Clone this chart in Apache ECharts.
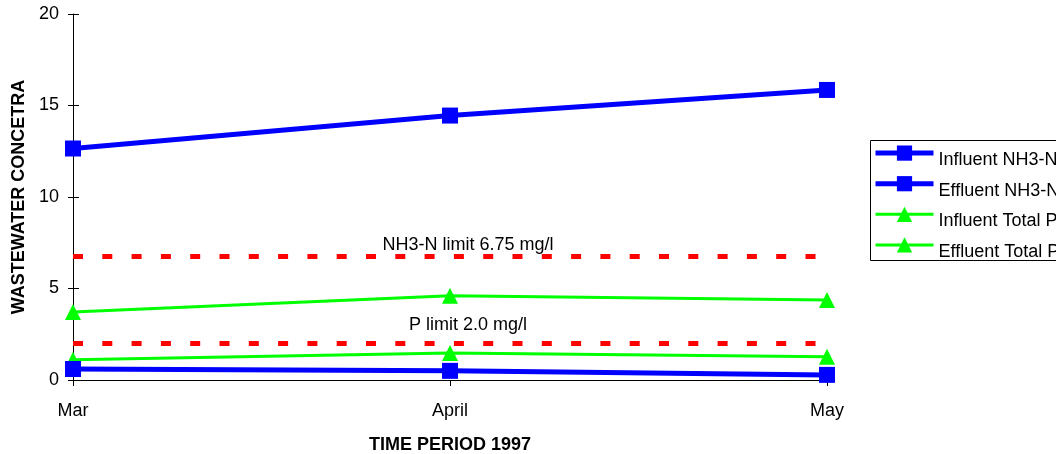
<!DOCTYPE html>
<html>
<head>
<meta charset="utf-8">
<script src="https://cdn.jsdelivr.net/npm/echarts@6/dist/echarts.min.js"></script>
<style>
html,body{margin:0;padding:0;background:#fff;}
#chart{width:1056px;height:454px;}
</style>
</head>
<body>
<div id="chart"></div>
<script>
const categories = ['Mar', 'April', 'May'];
const influentNH3 = [12.65, 14.45, 15.85];
const effluentNH3 = [0.6, 0.5, 0.28];
const influentTP = [3.72, 4.6, 4.37];
const effluentTP = [1.1, 1.48, 1.27];
const nh3Limit = [6.75, 6.75, 6.75];
const pLimit = [2.0, 2.0, 2.0];
const nh3LimitText = 'NH3-N limit 6.75 mg/l';
const pLimitText = 'P limit 2.0 mg/l';
const yTicks = { min: 0, max: 20, interval: 5 };

const FONT = "'Liberation Sans', Arial, sans-serif";
const chart = echarts.init(document.getElementById('chart'), null, { renderer: 'canvas' });

function limitData(arr, text, dist) {
  return arr.map((v, i) => i === 1 ? {
    value: v,
    label: { show: true, position: 'top', distance: dist, offset: [18, 0], formatter: text,
      color: '#000', fontSize: 18, fontFamily: FONT }
  } : v);
}

const option = {
  animation: false,
  backgroundColor: '#fff',
  grid: { left: 73, right: 229, top: 14, bottom: 74, containLabel: false, outerBoundsMode: 'none' },
  graphic: [{
    type: 'rect', z: 100, silent: true,
    shape: { x: 870.5, y: 140.5, width: 220, height: 120 },
    style: { fill: 'none', stroke: '#000', lineWidth: 1 }
  }],
  legend: {
    orient: 'vertical',
    left: 873, top: 145.5,
    padding: 0,
    itemGap: 7,
    itemWidth: 58,
    itemHeight: 19,
    itemTextGap: -2,
    borderWidth: 0,
    lineStyle: { width: 'inherit' },
    data: ['Influent NH3-N', 'Effluent NH3-N', 'Influent Total P', 'Effluent Total P'],
    formatter: '{a|{name}}',
    textStyle: { color: '#000', fontSize: 18, fontFamily: FONT,
      rich: { a: { color: '#000', fontSize: 18, fontFamily: FONT, padding: [14, 0, 0, 0] } } }
  },
  xAxis: {
    type: 'category',
    data: categories,
    boundaryGap: false,
    name: 'TIME PERIOD 1997',
    nameLocation: 'middle',
    nameGap: 56,
    nameTextStyle: { color: '#000', fontSize: 18, fontWeight: 'bold', fontFamily: FONT },
    axisLine: { lineStyle: { color: '#000', width: 1 } },
    axisTick: { show: true, length: 6, alignWithLabel: true, lineStyle: { color: '#000' } },
    axisLabel: { color: '#000', fontSize: 18, fontFamily: FONT, margin: 22 },
    splitLine: { show: false }
  },
  yAxis: [{
    type: 'value',
    min: yTicks.min, max: yTicks.max, interval: yTicks.interval,
    name: 'WASTEWATER CONCETRA',
    nameLocation: 'middle',
    nameGap: 44,
    nameRotate: 90,
    nameTextStyle: { color: '#000', fontSize: 18, fontWeight: 'bold', fontFamily: FONT },
    axisLine: { show: true, lineStyle: { color: '#000', width: 1 } },
    axisTick: { show: true, length: 5, lineStyle: { color: '#000' } },
    axisLabel: { color: '#000', fontSize: 18, fontFamily: FONT, margin: 14 },
    splitLine: { show: false }
  }, {
    type: 'value',
    position: 'left',
    min: yTicks.min, max: yTicks.max, interval: yTicks.interval,
    axisLine: { show: false },
    axisTick: { show: true, inside: true, length: 6, lineStyle: { color: '#000' } },
    axisLabel: { show: false },
    splitLine: { show: false }
  }],
  series: [
    {
      name: 'NH3 limit', type: 'line', data: limitData(nh3Limit, nh3LimitText, 2),
      symbol: 'circle', symbolSize: 1, showSymbol: true, silent: true,
      itemStyle: { color: 'rgba(0,0,0,0)', borderWidth: 0 },
      lineStyle: { color: '#FF0000', width: 5, type: [10, 19.3], cap: 'butt' },
      z: 1
    },
    {
      name: 'P limit', type: 'line', data: limitData(pLimit, pLimitText, 9),
      symbol: 'circle', symbolSize: 1, showSymbol: true, silent: true,
      itemStyle: { color: 'rgba(0,0,0,0)', borderWidth: 0 },
      lineStyle: { color: '#FF0000', width: 5, type: [10, 19.3], cap: 'butt' },
      z: 1
    },
    {
      name: 'Influent Total P', type: 'line', data: influentTP,
      symbol: 'triangle', symbolSize: 16,
      itemStyle: { color: '#00FF00' },
      lineStyle: { color: '#00FF00', width: 3 },
      z: 2
    },
    {
      name: 'Effluent Total P', type: 'line', data: effluentTP,
      symbol: 'triangle', symbolSize: 16,
      itemStyle: { color: '#00FF00' },
      lineStyle: { color: '#00FF00', width: 3 },
      z: 2
    },
    {
      name: 'Influent NH3-N', type: 'line', data: influentNH3,
      symbol: 'rect', symbolSize: 16,
      itemStyle: { color: '#0000FF' },
      lineStyle: { color: '#0000FF', width: 5 },
      z: 3
    },
    {
      name: 'Effluent NH3-N', type: 'line', data: effluentNH3,
      symbol: 'rect', symbolSize: 16,
      itemStyle: { color: '#0000FF' },
      lineStyle: { color: '#0000FF', width: 5 },
      z: 3
    }
  ]
};
chart.setOption(option);
</script>
</body>
</html>
